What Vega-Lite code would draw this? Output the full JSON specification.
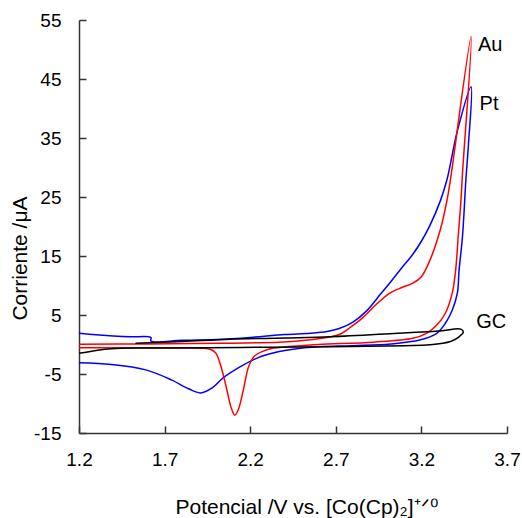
{
  "$schema": "https://vega.github.io/schema/vega-lite/v6.json",
  "width": 428,
  "height": 413,
  "autosize": "none",
  "padding": {"left": 79, "top": 20, "right": 15, "bottom": 85},
  "config": {"view": {"stroke": null}, "font": "Liberation Sans"},
  "datasets": {
    "curves": [
      {"s": "Pt", "i": 1, "x": 1.2, "y": 1.9},
      {"s": "Pt", "i": 2, "x": 1.3, "y": 1.65},
      {"s": "Pt", "i": 3, "x": 1.4, "y": 1.45},
      {"s": "Pt", "i": 4, "x": 1.5, "y": 1.3},
      {"s": "Pt", "i": 5, "x": 1.62, "y": 1.2},
      {"s": "Pt", "i": 6, "x": 1.62, "y": 0.6},
      {"s": "Pt", "i": 7, "x": 1.8, "y": 0.7},
      {"s": "Pt", "i": 8, "x": 2.0, "y": 0.85},
      {"s": "Pt", "i": 9, "x": 2.2, "y": 1.2},
      {"s": "Pt", "i": 10, "x": 2.4, "y": 1.7},
      {"s": "Pt", "i": 11, "x": 2.55, "y": 1.9},
      {"s": "Pt", "i": 12, "x": 2.65, "y": 2.2},
      {"s": "Pt", "i": 13, "x": 2.72, "y": 2.7},
      {"s": "Pt", "i": 14, "x": 2.8, "y": 3.8},
      {"s": "Pt", "i": 15, "x": 2.88, "y": 5.7},
      {"s": "Pt", "i": 16, "x": 2.96, "y": 8.5},
      {"s": "Pt", "i": 17, "x": 3.02, "y": 10.6},
      {"s": "Pt", "i": 18, "x": 3.08, "y": 12.8},
      {"s": "Pt", "i": 19, "x": 3.15, "y": 15.3},
      {"s": "Pt", "i": 20, "x": 3.2, "y": 17.5},
      {"s": "Pt", "i": 21, "x": 3.25, "y": 20.2},
      {"s": "Pt", "i": 22, "x": 3.31, "y": 24.3},
      {"s": "Pt", "i": 23, "x": 3.35, "y": 28},
      {"s": "Pt", "i": 24, "x": 3.41, "y": 36.2},
      {"s": "Pt", "i": 25, "x": 3.49, "y": 43.7},
      {"s": "Pt", "i": 26, "x": 3.475, "y": 34},
      {"s": "Pt", "i": 27, "x": 3.46, "y": 28},
      {"s": "Pt", "i": 28, "x": 3.44, "y": 18.3},
      {"s": "Pt", "i": 29, "x": 3.42, "y": 12.6},
      {"s": "Pt", "i": 30, "x": 3.41, "y": 8.7},
      {"s": "Pt", "i": 31, "x": 3.38, "y": 5.8},
      {"s": "Pt", "i": 32, "x": 3.34, "y": 3.6},
      {"s": "Pt", "i": 33, "x": 3.29, "y": 1.9},
      {"s": "Pt", "i": 34, "x": 3.19, "y": 0.75},
      {"s": "Pt", "i": 35, "x": 3.02, "y": 0.1},
      {"s": "Pt", "i": 36, "x": 2.8, "y": -0.2},
      {"s": "Pt", "i": 37, "x": 2.6, "y": -0.4},
      {"s": "Pt", "i": 38, "x": 2.45, "y": -0.8},
      {"s": "Pt", "i": 39, "x": 2.37, "y": -1.2},
      {"s": "Pt", "i": 40, "x": 2.3, "y": -1.7},
      {"s": "Pt", "i": 41, "x": 2.24, "y": -2.3},
      {"s": "Pt", "i": 42, "x": 2.14, "y": -3.8},
      {"s": "Pt", "i": 43, "x": 2.04, "y": -5.7},
      {"s": "Pt", "i": 44, "x": 1.98, "y": -7.3},
      {"s": "Pt", "i": 45, "x": 1.91, "y": -8.2},
      {"s": "Pt", "i": 46, "x": 1.84, "y": -7.5},
      {"s": "Pt", "i": 47, "x": 1.74, "y": -6.0},
      {"s": "Pt", "i": 48, "x": 1.59, "y": -4.3},
      {"s": "Pt", "i": 49, "x": 1.39, "y": -3.4},
      {"s": "Pt", "i": 50, "x": 1.2, "y": -3.1},
      {"s": "Au", "i": 1, "x": 1.2, "y": 0.05},
      {"s": "Au", "i": 2, "x": 1.6, "y": 0.1},
      {"s": "Au", "i": 3, "x": 2.0, "y": 0.2},
      {"s": "Au", "i": 4, "x": 2.37, "y": 0.4},
      {"s": "Au", "i": 5, "x": 2.55, "y": 0.8},
      {"s": "Au", "i": 6, "x": 2.67, "y": 1.3},
      {"s": "Au", "i": 7, "x": 2.72, "y": 1.7},
      {"s": "Au", "i": 8, "x": 2.78, "y": 2.8},
      {"s": "Au", "i": 9, "x": 2.86, "y": 4.6},
      {"s": "Au", "i": 10, "x": 2.94, "y": 6.9},
      {"s": "Au", "i": 11, "x": 3.02, "y": 8.8},
      {"s": "Au", "i": 12, "x": 3.09, "y": 9.7},
      {"s": "Au", "i": 13, "x": 3.15, "y": 10.4},
      {"s": "Au", "i": 14, "x": 3.2, "y": 11.5},
      {"s": "Au", "i": 15, "x": 3.25, "y": 14.3},
      {"s": "Au", "i": 16, "x": 3.31, "y": 19.4},
      {"s": "Au", "i": 17, "x": 3.35, "y": 24.5},
      {"s": "Au", "i": 18, "x": 3.37, "y": 28},
      {"s": "Au", "i": 19, "x": 3.49, "y": 52.2},
      {"s": "Au", "i": 20, "x": 3.44, "y": 29},
      {"s": "Au", "i": 21, "x": 3.43, "y": 24},
      {"s": "Au", "i": 22, "x": 3.415, "y": 18.3},
      {"s": "Au", "i": 23, "x": 3.4, "y": 12.6},
      {"s": "Au", "i": 24, "x": 3.38, "y": 8.7},
      {"s": "Au", "i": 25, "x": 3.34, "y": 5.3},
      {"s": "Au", "i": 26, "x": 3.29, "y": 3.3},
      {"s": "Au", "i": 27, "x": 3.23, "y": 1.9},
      {"s": "Au", "i": 28, "x": 3.15, "y": 1.05},
      {"s": "Au", "i": 29, "x": 2.92, "y": 0.4},
      {"s": "Au", "i": 30, "x": 2.6, "y": 0.0},
      {"s": "Au", "i": 31, "x": 2.45, "y": -0.3},
      {"s": "Au", "i": 32, "x": 2.37, "y": -0.5},
      {"s": "Au", "i": 33, "x": 2.33, "y": -0.65},
      {"s": "Au", "i": 34, "x": 2.27, "y": -1.2},
      {"s": "Au", "i": 35, "x": 2.22, "y": -2.1},
      {"s": "Au", "i": 36, "x": 2.19, "y": -3.8},
      {"s": "Au", "i": 37, "x": 2.16, "y": -7.7},
      {"s": "Au", "i": 38, "x": 2.13, "y": -11.1},
      {"s": "Au", "i": 39, "x": 2.11, "y": -12},
      {"s": "Au", "i": 40, "x": 2.09, "y": -10.8},
      {"s": "Au", "i": 41, "x": 2.06, "y": -7.2},
      {"s": "Au", "i": 42, "x": 2.03, "y": -3.8},
      {"s": "Au", "i": 43, "x": 2.0, "y": -1.5},
      {"s": "Au", "i": 44, "x": 1.97, "y": -0.85},
      {"s": "Au", "i": 45, "x": 1.8, "y": -0.6},
      {"s": "Au", "i": 46, "x": 1.5, "y": -0.55},
      {"s": "Au", "i": 47, "x": 1.2, "y": -0.55},
      {"s": "GC", "i": 1, "x": 1.53, "y": 0.2},
      {"s": "GC", "i": 2, "x": 1.8, "y": 0.5},
      {"s": "GC", "i": 3, "x": 2.08, "y": 0.9},
      {"s": "GC", "i": 4, "x": 2.4, "y": 1.1},
      {"s": "GC", "i": 5, "x": 2.67, "y": 1.3},
      {"s": "GC", "i": 6, "x": 3.06, "y": 1.9},
      {"s": "GC", "i": 7, "x": 3.31, "y": 2.3},
      {"s": "GC", "i": 8, "x": 3.43, "y": 2.6},
      {"s": "GC", "i": 9, "x": 3.445, "y": 2.1},
      {"s": "GC", "i": 10, "x": 3.42, "y": 1.3},
      {"s": "GC", "i": 11, "x": 3.37, "y": 0.5},
      {"s": "GC", "i": 12, "x": 3.25, "y": -0.05},
      {"s": "GC", "i": 13, "x": 3.1, "y": -0.2},
      {"s": "GC", "i": 14, "x": 2.67, "y": -0.4},
      {"s": "GC", "i": 15, "x": 2.14, "y": -0.5},
      {"s": "GC", "i": 16, "x": 1.6, "y": -0.6},
      {"s": "GC", "i": 17, "x": 1.39, "y": -0.7},
      {"s": "GC", "i": 18, "x": 1.3, "y": -1.0},
      {"s": "GC", "i": 19, "x": 1.2, "y": -1.5}
    ],
    "labels": [
      {"label": "Au", "x": 3.53, "y": 50.8},
      {"label": "Pt", "x": 3.54, "y": 40.7},
      {"label": "GC", "x": 3.52, "y": 3.8}
    ]
  },
  "layer": [
    {
      "data": {"name": "curves"},
      "mark": {"type": "line", "strokeWidth": 1.5, "interpolate": "catmull-rom"},
      "encoding": {
        "x": {
          "field": "x", "type": "quantitative",
          "scale": {"domain": [1.2, 3.7], "nice": false, "zero": false},
          "axis": {
            "values": [1.2, 1.7, 2.2, 2.7, 3.2, 3.7], "format": ".1f", "grid": false,
            "labelFlush": false,
            "tickSize": -7, "tickWidth": 1.5, "domainWidth": 1.5,
            "domainColor": "#333333", "tickColor": "#333333",
            "labelColor": "#000000", "labelFontSize": 19, "labelPadding": 24,
            "title": "Potencial /V vs. [Co(Cp)₂]⁺ᐟ⁰",
            "titleFontSize": 21, "titleFontWeight": "normal", "titleColor": "#000000",
            "titleX": 227, "titleY": 80, "titleBaseline": "alphabetic"
          }
        },
        "y": {
          "field": "y", "type": "quantitative",
          "scale": {"domain": [-15, 55], "nice": false, "zero": false},
          "axis": {
            "values": [-15, -5, 5, 15, 25, 35, 45, 55], "labelExpr": "datum.value + ''", "grid": false,
            "labelFlush": false,
            "tickSize": -7, "tickWidth": 1.5, "domainWidth": 1.5,
            "domainColor": "#333333", "tickColor": "#333333",
            "labelColor": "#000000", "labelFontSize": 19, "labelPadding": 25,
            "title": "Corriente /μA",
            "titleFontSize": 21, "titleFontWeight": "normal", "titleColor": "#000000",
            "titlePadding": 3, "titleY": 238
          }
        },
        "color": {
          "field": "s", "type": "nominal",
          "scale": {"domain": ["Pt", "Au", "GC"], "range": ["#0000ff", "#ff0000", "#000000"]},
          "legend": null
        },
        "order": {"field": "i", "type": "quantitative"}
      }
    },
    {
      "data": {"name": "labels"},
      "mark": {"type": "text", "align": "left", "baseline": "middle", "fontSize": 20, "color": "#000000"},
      "encoding": {
        "x": {"field": "x", "type": "quantitative"},
        "y": {"field": "y", "type": "quantitative"},
        "text": {"field": "label"}
      }
    }
  ]
}
